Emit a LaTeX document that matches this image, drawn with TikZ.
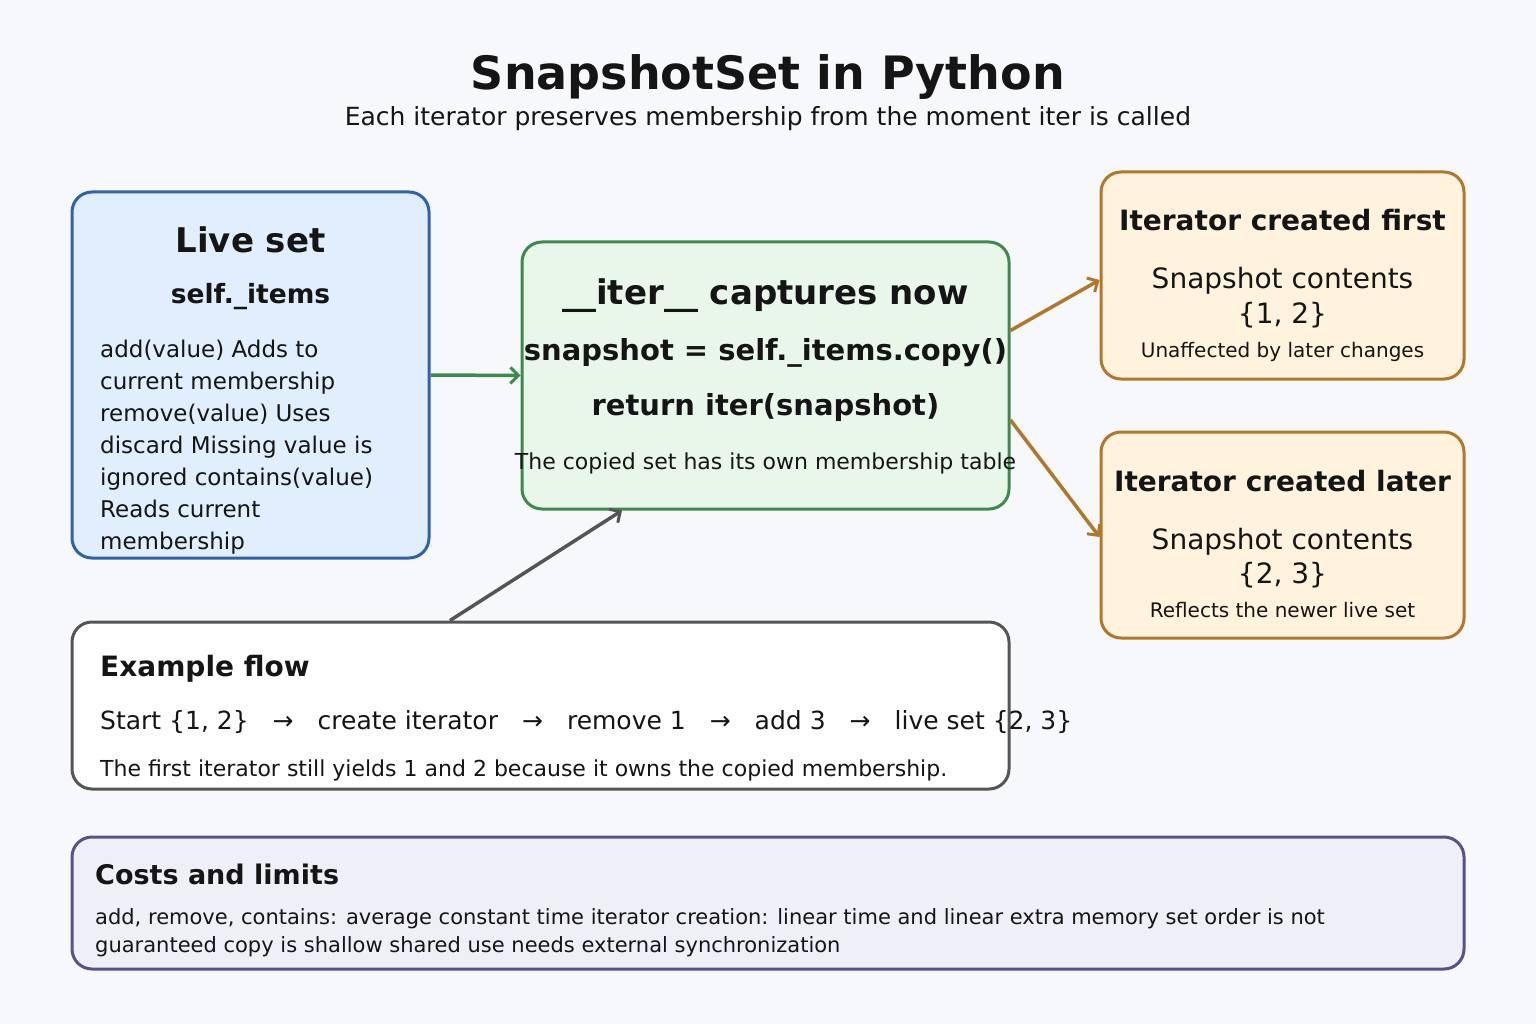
\documentclass[tikz,border=0pt]{standalone}
\usepackage{fontspec}
\setmainfont{DejaVu Sans}
\usetikzlibrary{arrows.meta,calc}
\newcommand\myfs[1]{\fontsize{#1}{1.2\dimexpr #1pt\relax}\selectfont}
\definecolor{bgc}{HTML}{F6F8FC}
\definecolor{txt}{HTML}{151515}
\definecolor{blueS}{HTML}{2F62A8}\definecolor{blueF}{HTML}{E1EEFD}
\definecolor{greenS}{HTML}{3E8A4C}\definecolor{greenF}{HTML}{E9F7EA}
\definecolor{oranS}{HTML}{B07828}\definecolor{oranF}{HTML}{FFF3DD}
\definecolor{grayS}{HTML}{555555}
\definecolor{purpS}{HTML}{5B4F8F}\definecolor{purpF}{HTML}{EFEFF8}
\tikzset{
  box/.style={draw, line width=3pt, rounded corners=20pt, inner sep=0pt},
  lbl/.style={text=txt, inner sep=0pt, anchor=base},
  lbll/.style={text=txt, inner sep=0pt, anchor=base west},
  conn/.style={line width=3.5pt, -{Straight Barb[length=8pt,width=16pt,line width=3pt]}},
}
\begin{document}
\begin{tikzpicture}[x=1pt,y=-1pt]
\fill[bgc] (0,0) rectangle (1536,1024);
\useasboundingbox (0,0) rectangle (1536,1024);

% title
\node[lbl] (title) at (768,90) {\myfs{46}\bfseries SnapshotSet in Python};
\node[lbl] (sub) at (768,126) {\myfs{25}Each iterator preserves membership from the moment iter is called};

% boxes
\node[box, draw=blueS, fill=blueF, minimum width=357pt, minimum height=366pt] (live) at (250.5,375) {};
\node[box, draw=greenS, fill=greenF, minimum width=487pt, minimum height=267pt] (cap) at (765.5,375.5) {};
\node[box, draw=oranS, fill=oranF, minimum width=363pt, minimum height=207pt] (first) at (1282.5,275.5) {};
\node[box, draw=oranS, fill=oranF, minimum width=363pt, minimum height=206pt] (later) at (1282.5,535) {};
\node[box, draw=grayS, fill=white, minimum width=937pt, minimum height=167pt] (ex) at (540.5,705.5) {};
\node[box, draw=purpS, fill=purpF, minimum width=1392pt, minimum height=132pt] (cost) at (768,903) {};

% live set text
\node[lbl] (livet) at (250.5,253) {\myfs{34}\bfseries Live set};
\node[lbl] (lives) at (250.5,303) {\myfs{26.5}\bfseries self.\_items};
\node[text=txt, inner sep=0pt, anchor=north west, align=left, font={\fontsize{23}{32}\selectfont}] (liveb) at (100,340) {add(value) Adds to\\current membership\\remove(value) Uses\\discard Missing value is\\ignored contains(value)\\Reads current\\membership};

% capture text
\node[lbl] (capt) at (765.5,304) {\myfs{34}\bfseries \_\_iter\_\_ captures now};
\node[lbl] (caps) at (765.5,360) {\myfs{29}\bfseries snapshot = self.\_items.copy()};
\node[lbl] (capr) at (765.5,415) {\myfs{29}\bfseries return iter(snapshot)};
\node[lbl] (capn) at (765.5,469) {\myfs{22}The copied set has its own membership table};

% first
\node[lbl] (ft) at (1282.5,231) {\myfs{28}\bfseries Iterator created first};
\node[lbl] (fs1) at (1282.5,289) {\myfs{28}Snapshot contents};
\node[lbl] (fs2) at (1282.5,323) {\myfs{28}\{1, 2\}};
\node[lbl] (fn) at (1282.5,357) {\myfs{20}Unaffected by later changes};

% later
\node[lbl] (lt) at (1282.5,491) {\myfs{28}\bfseries Iterator created later};
\node[lbl] (ls1) at (1282.5,549) {\myfs{28}Snapshot contents};
\node[lbl] (ls2) at (1282.5,583) {\myfs{28}\{2, 3\}};
\node[lbl] (ln) at (1282.5,617) {\myfs{20}Reflects the newer live set};

% example
\node[lbll] (ext) at (100,676) {\myfs{28}\bfseries Example flow};
\node[lbll] (exf) at (100,729) {\myfs{25}Start \{1, 2\}\hspace{24pt}→\hspace{24pt}create iterator\hspace{24pt}→\hspace{24pt}remove 1\hspace{24pt}→\hspace{24pt}add 3\hspace{24pt}→\hspace{24pt}live set \{2, 3\}};
\node[lbll] (exn) at (100,776) {\myfs{22}The first iterator still yields 1 and 2 because it owns the copied membership.};

% costs
\node[lbll] (ct) at (95,884) {\myfs{27}\bfseries Costs and limits};
\node[text=txt, inner sep=0pt, anchor=north west, align=left, font={\fontsize{21}{28}\selectfont}] (cb) at (95,908) {add, remove, contains: average constant time iterator creation: linear time and linear extra memory set order is not\\guaranteed copy is shallow shared use needs external synchronization};

% connectors
\draw[conn, greenS] (live.east) -- (cap.west);
\draw[conn, oranS] ([yshift=45pt]cap.east) -- ([yshift=-4.5pt]first.west);
\draw[conn, oranS] ([yshift=-44.5pt]cap.east) -- ([yshift=-2pt]later.west);
\draw[conn, grayS] ([xshift=-90.5pt]ex.north) -- ([xshift=-143.5pt]cap.south);
\end{tikzpicture}
\end{document}
